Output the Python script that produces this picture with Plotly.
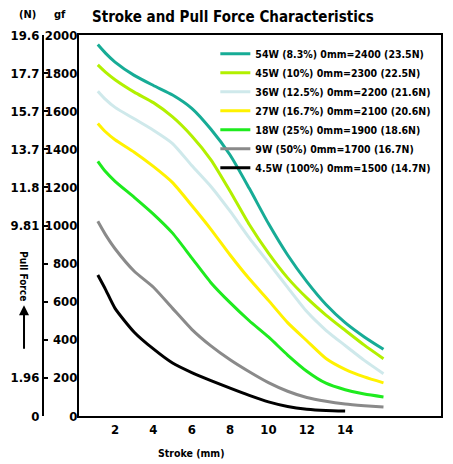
import plotly.graph_objects as go

# ---- data ----
stroke = [1.1, 1.5, 2, 3, 4, 5, 6, 7, 8, 9, 10, 11, 12, 13, 14, 15, 16]
w54 = [1950, 1905, 1858, 1788, 1735, 1685, 1615, 1505, 1370, 1195, 1010, 845, 705, 585, 490, 415, 350]
w45 = [1843, 1805, 1765, 1700, 1645, 1570, 1470, 1345, 1180, 1005, 855, 725, 620, 530, 450, 372, 301]
w36 = [1705, 1662, 1620, 1560, 1500, 1430, 1315, 1205, 1075, 935, 805, 675, 548, 450, 370, 292, 222]
w27 = [1536, 1492, 1450, 1385, 1310, 1225, 1105, 980, 845, 720, 607, 490, 395, 302, 245, 205, 174]
w18 = [1337, 1283, 1232, 1148, 1060, 960, 830, 700, 595, 500, 415, 320, 235, 172, 138, 115, 100]
w9 = [1022, 952, 878, 760, 676, 565, 455, 368, 295, 232, 175, 130, 97, 77, 63, 54, 47]
w45b = [740, 665, 565, 440, 352, 278, 228, 186, 146, 108, 74, 50, 36, 29, 26]
stroke_short = stroke[:len(w45b)]

names = ["54W (8.3%) 0mm=2400 (23.5N)", "45W (10%) 0mm=2300 (22.5N)",
         "36W (12.5%) 0mm=2200 (21.6N)", "27W (16.7%) 0mm=2100 (20.6N)",
         "18W (25%) 0mm=1900 (18.6N)", "9W (50%) 0mm=1700 (16.7N)",
         "4.5W (100%) 0mm=1500 (14.7N)"]
colors = ["#17AC96", "#B2F000", "#CFE9EB", "#FFF200", "#1EEB1E", "#8A8A8A", "#000000"]

gf_ticks = [0, 200, 400, 600, 800, 1000, 1200, 1400, 1600, 1800, 2000]
n_ticktext = ["0", "1.96", "", "", "", "9.81", "11.8", "13.7", "15.7", "17.7", "19.6"]
x_ticks = [2, 4, 6, 8, 10, 12, 14]

FONT = "DejaVu Sans Condensed, Roboto Condensed, Liberation Sans, sans-serif"

fig = go.Figure()
series = [w54, w45, w36, w27, w18, w9, w45b]
for name, col, ys in zip(names, colors, series):
    xs = stroke if len(ys) == len(stroke) else stroke_short
    fig.add_trace(go.Scatter(x=xs, y=ys, mode="lines", name=name,
                             line=dict(color=col, width=3, shape="spline", smoothing=0.6)))

# invisible trace for second y axis (N scale)
fig.add_trace(go.Scatter(x=[stroke[0]], y=[0], yaxis="y2", mode="markers",
                         marker=dict(opacity=0), showlegend=False, hoverinfo="skip"))

fig.update_layout(
    width=445, height=456,
    margin=dict(l=35, r=12, t=27, b=48, autoexpand=False),
    paper_bgcolor="white", plot_bgcolor="white",
    font=dict(family=FONT, size=13, color="black", weight="bold"),
    showlegend=True,
    legend=dict(x=0.433, y=0.989, xanchor="left", yanchor="top",
                bgcolor="rgba(0,0,0,0)", font=dict(size=10.5, family=FONT, weight="bold"),
                tracegroupgap=0, itemwidth=30),
    xaxis=dict(domain=[0.0905, 1], range=[0.12, 19.0], showgrid=False, zeroline=False,
               showline=True, linecolor="black", linewidth=2, mirror=True,
               ticks="", tickvals=x_ticks, tickfont=dict(size=13, weight="bold")),
    yaxis=dict(range=[0, 2000], showgrid=False, zeroline=False,
               showline=True, linecolor="black", linewidth=2, mirror=True,
               ticks="", ticklen=0, ticklabelstandoff=-3,
               tickvals=gf_ticks, tickfont=dict(size=13, weight="bold")),
    yaxis2=dict(range=[0, 2000], overlaying="y", anchor="free", position=0, side="left",
                showgrid=False, zeroline=False, showline=True, linecolor="black", linewidth=2,
                ticks="inside", ticklen=4, tickwidth=2, tickcolor="black",
                tickvals=gf_ticks, ticktext=n_ticktext, tickfont=dict(size=13, weight="bold")),
)

fig.add_annotation(text="Stroke and Pull Force Characteristics", xref="paper", yref="paper",
                   x=0.118, y=1.047, xanchor="left", yanchor="middle", showarrow=False,
                   font=dict(size=15, family=FONT, weight="bold"))
fig.add_annotation(text="(N)", xref="paper", yref="paper", x=-0.040, y=1.053,
                   xanchor="center", yanchor="middle", showarrow=False,
                   font=dict(size=11, family=FONT, weight="bold"))
fig.add_annotation(text="gf", xref="paper", yref="paper", x=0.043, y=1.053,
                   xanchor="center", yanchor="middle", showarrow=False,
                   font=dict(size=11, family=FONT, weight="bold"))
fig.add_annotation(text="Pull Force", xref="paper", yref="paper", x=-0.0477, y=0.367,
                   xanchor="center", yanchor="middle", showarrow=False, textangle=90,
                   font=dict(size=10, family=FONT, weight="bold"))
fig.add_annotation(text="", xref="paper", yref="paper", x=-0.0477, y=0.291,
                   ax=0, ay=45, showarrow=True, arrowhead=2, arrowwidth=2, arrowsize=1,
                   arrowcolor="black")
fig.add_annotation(text="Stroke (mm)", xref="paper", yref="paper", x=0.372, y=-0.097,
                   xanchor="center", yanchor="middle", showarrow=False,
                   font=dict(size=10.5, family=FONT, weight="bold"))

fig.write_html("out.html")
